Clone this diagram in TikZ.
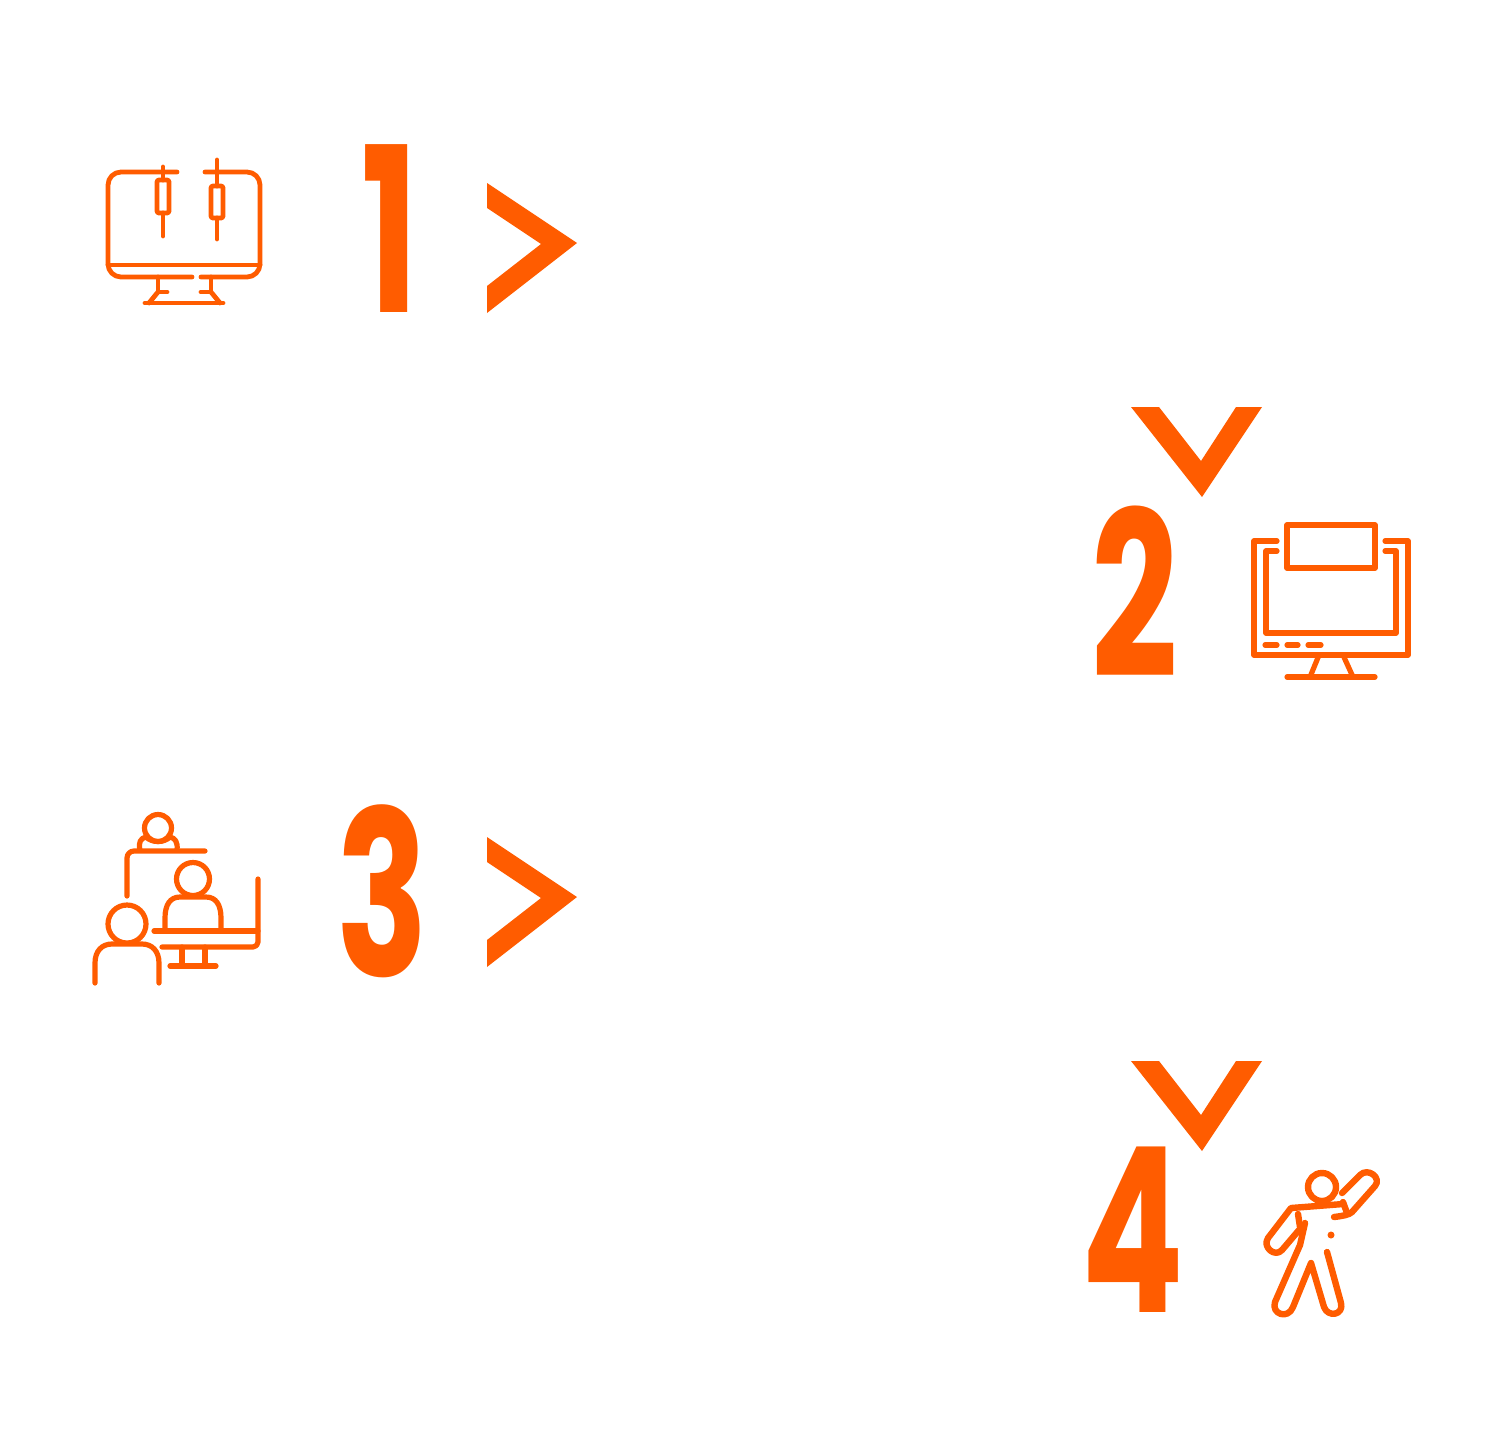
\documentclass[tikz,border=0pt]{standalone}
\usepackage{fontspec}
\setmainfont{Liberation Sans}
\newfontfamily\digitfont{Poppins}
\usepackage{xcolor}
\definecolor{signal}{HTML}{FF5C00}
\tikzset{
  icon/.style={draw=signal,line width=2.6pt,line cap=round,line join=round},
  numeral/.style={font=\fontsize{115}{117}\selectfont\digitfont\bfseries,text=signal,inner sep=0pt,anchor=base,xscale=0.66}
}

\begin{document}
\begin{tikzpicture}[x=0.5pt,y=-0.5pt]
  \useasboundingbox (0,0) rectangle (1508,1440);

  % Numbers
  \node[numeral] (one) at (390,312) {1};
  \node[numeral] (two) at (1135,677) {2};
  \node[numeral] (three) at (382,976) {3};
  \node[numeral] (four) at (1133,1312) {4};

  % Chevrons
  \foreach \y in {0,654} {
    \fill[signal] (487,183+\y) -- (577,243+\y) -- (487,313+\y) -- (487,286+\y) -- (541,244+\y) -- (487,208+\y) -- cycle;
    \fill[signal] (1131,407+\y) -- (1159,407+\y) -- (1201,461+\y) -- (1236,407+\y) -- (1262,407+\y) -- (1202,497+\y) -- cycle;
  }

  % Monitor with candles
  \begin{scope}[icon/.append style={line width=2.4pt}]
    \draw[icon,rounded corners=6.5pt] (177,172) -- (108,172) -- (108,277) -- (192,277);
    \draw[icon,rounded corners=6.5pt] (205,172) -- (260,172) -- (260,277) -- (201,277);
    \draw[icon] (108,265) -- (260,265);
    \draw[icon] (167,292) -- (158,292) -- (158,277);
    \draw[icon] (201,292) -- (211,292) -- (211,277);
    \draw[icon] (158,292) -- (149,303);
    \draw[icon] (211,292) -- (220,303);
    \draw[icon] (145,303) -- (223,303);
    \draw[icon] (163,167) -- (163,180);
    \draw[icon,rounded corners=1pt] (157,180) rectangle (169,213);
    \draw[icon] (163,213) -- (163,236);
    \draw[icon] (217,160) -- (217,186);
    \draw[icon,rounded corners=1pt] (211,186) rectangle (223,218);
    \draw[icon] (217,218) -- (217,239);
  \end{scope}

  % Screen with window
  \draw[icon] (1287,525) rectangle (1375,568);
  \draw[icon] (1277,541) -- (1254,541) -- (1254,655) -- (1408,655) -- (1408,541) -- (1385,541);
  \draw[icon] (1277,551) -- (1266,551) -- (1266,633) -- (1396,633) -- (1396,551) -- (1385,551);
  \foreach \a/\b in {1265/1277,1287/1298,1308/1321} {
    \draw[icon] (\a,645) -- (\b,645);
  }
  \draw[icon] (1319,655) -- (1310,677);
  \draw[icon] (1343,655) -- (1353,677);
  \draw[icon] (1287,677) -- (1375,677);

  % Video meeting
  \draw[icon] (158,828) circle (13.5);
  \draw[icon] (140,850) .. controls (138,842) and (141,838) .. (146,837) .. controls (152,843) and (164,843) .. (170,837) .. controls (175,838) and (178,842) .. (177,850);
  \draw[icon,rounded corners=3.5pt] (205,851) -- (127,851) -- (127,896);
  \draw[icon] (193,879) circle (16.5);
  \draw[icon] (165,928) -- (165,918) .. controls (165,905) and (170,897) .. (180,897) -- (206,897) .. controls (216,897) and (221,905) .. (221,918) -- (221,928);
  \draw[icon] (154,931) -- (258,931);
  \draw[icon,rounded corners=2.5pt] (258,879) -- (258,947) -- (162,947);
  \draw[icon] (182,947) -- (182,966);
  \draw[icon] (205,947) -- (205,966);
  \draw[icon] (170,966) -- (216,966);
  \draw[icon] (127,924) circle (19);
  \draw[icon] (95,983) -- (95,963) .. controls (95,951) and (102,944) .. (112,944) -- (142,944) .. controls (152,944) and (159,951) .. (159,963) -- (159,983);

  % Waving figure
  \begin{scope}[icon/.append style={line width=3.2pt}]
    \draw[icon] (1322,1187) circle (14);
    \draw[icon] (1342,1193) -- (1360,1175) .. controls (1368,1167) and (1382,1178) .. (1375,1186) -- (1352,1212) .. controls (1349,1215) and (1342,1216) .. (1334,1217);
    \draw[icon] (1343,1202) -- (1347,1213);
    \draw[icon] (1343,1204) -- (1291,1208) -- (1268,1238) .. controls (1262,1247) and (1275,1258) .. (1282,1250) -- (1299,1230);
    \draw[icon] (1298,1214) -- (1300,1227);
    \draw[icon] (1305,1223) -- (1300,1245) -- (1275,1302) .. controls (1271,1314) and (1288,1320) .. (1293,1307) -- (1311,1263) -- (1324,1307) .. controls (1328,1318) and (1344,1315) .. (1341,1303) -- (1327,1252);
    \fill[signal] (1331,1235) circle (3.5);
  \end{scope}
\end{tikzpicture}
\end{document}
